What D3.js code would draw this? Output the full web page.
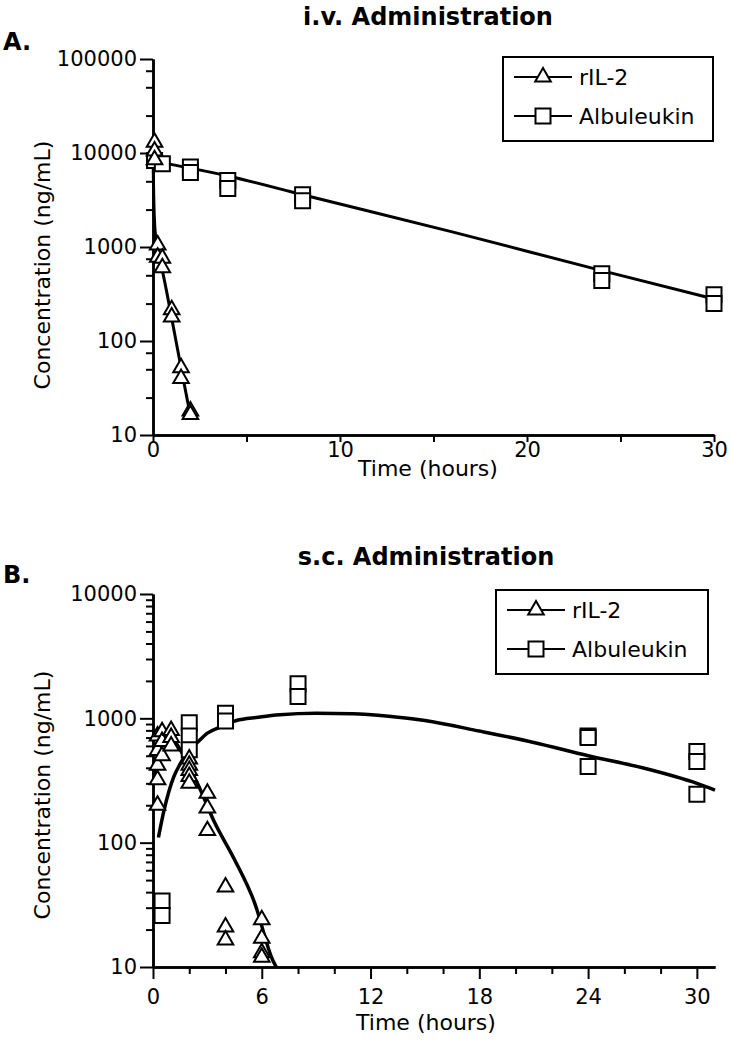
<!DOCTYPE html>
<html>
<head>
<meta charset="utf-8">
<script src="https://cdn.jsdelivr.net/npm/d3@7"></script>
<style>
  body { margin: 0; background: #fff; }
  svg { display: block; }
  text { font-family: "DejaVu Sans", sans-serif; fill: #000; }
</style>
</head>
<body>
<svg id="chart" width="734" height="1047"></svg>
<script>
// ---- data ----
// A. i.v. administration
var ivIL2Time = [0.083, 0.083, 0.083, 0.25, 0.25, 0.5, 0.5, 1, 1, 1.5, 1.5, 2, 2];
var ivIL2Conc = [13000, 10500, 8500, 1050, 780, 760, 600, 215, 180, 52, 40, 18, 16.5];
var ivAlbTime = [0.083, 0.5, 2, 2, 4, 4, 8, 8, 24, 24, 30, 30];
var ivAlbConc = [8300, 7700, 7100, 6200, 5100, 4200, 3600, 3100, 520, 440, 310, 250];
var ivIL2FitTime = [0, 0.02, 0.05, 0.1, 0.2, 0.35, 0.5, 1, 1.5, 2];
var ivIL2FitConc = [10000, 5500, 2800, 1600, 1100, 750, 560, 175, 52, 16];
var ivAlbFitTime = [0, 2, 4, 8, 16, 24, 30];
var ivAlbFitConc = [8200, 6900, 5700, 3600, 1450, 560, 280];

// B. s.c. administration
var scIL2Time = [0.25, 0.25, 0.25, 0.25, 0.25, 0.5, 0.5, 0.5, 1, 1, 1, 2, 2, 2, 2, 2, 3, 3, 3, 4, 4, 4, 6, 6, 6, 6];
var scIL2Conc = [720, 550, 420, 320, 200, 780, 650, 500, 800, 700, 600, 470, 420, 380, 340, 300, 250, 190, 125, 44, 21, 16.5, 24, 17, 13, 12];
var scAlbTime = [0.5, 0.5, 2, 2, 2, 4, 4, 8, 8, 24, 24, 24, 30, 30, 30];
var scAlbConc = [34, 26, 920, 720, 560, 1100, 950, 1900, 1500, 720, 700, 410, 540, 450, 245];
var scIL2FitTime = [0.1, 0.3, 0.6, 1, 1.5, 1.9, 2.5, 3.4, 4.5, 5.6, 6.6, 6.8];
var scIL2FitConc = [300, 560, 720, 700, 560, 430, 290, 145, 73, 33, 11.4, 10];
var scAlbFitTime = [0.3, 0.6, 1.15, 1.5, 2, 2.4, 3, 3.7, 4.6, 5.8, 7, 9, 11, 13, 15, 18, 21, 24, 27, 30, 31];
var scAlbFitConc = [110, 180, 340, 430, 560, 630, 760, 850, 960, 1020, 1070, 1100, 1090, 1040, 960, 790, 640, 500, 400, 300, 265];

// ticks
var ivXMajor = [0, 10, 20, 30];
var ivXMinor = [5, 15, 25];
var ivYMajor = [10, 100, 1000, 10000, 100000];
var ivYMinor = [25, 50, 75, 250, 500, 750, 2500, 5000, 7500, 25000, 50000, 75000];
var scXMajor = [0, 6, 12, 18, 24, 30];
var scXMinor = [2, 4, 8, 10, 14, 16, 20, 22, 26, 28];
var scYMajor = [10, 100, 1000, 10000];
var scYMinor = [];
[10, 100, 1000].forEach(function(d) {
  for (var k = 2; k <= 9; k++) scYMinor.push(d * k);
});

var seriesNames = ["rIL-2", "Albuleukin"];

function zip(t, c) {
  return t.map(function(d, i) { return {t: d, c: c[i]}; });
}

var svg = d3.select("#chart");
svg.append("rect").attr("width", 734).attr("height", 1047).attr("fill", "#fff");

function drawPanel(cfg) {
  var x = d3.scaleLinear().domain(cfg.xDomain).range(cfg.xRange);
  var y = d3.scaleLog().domain(cfg.yDomain).range(cfg.yRange);
  var g = svg.append("g");

  // axes
  var xAxis = d3.axisBottom(x).tickValues(cfg.xMajor).tickSize(cfg.xTick).tickSizeOuter(0)
    .tickPadding(cfg.xPad).tickFormat(d3.format("d"));
  var xMin = d3.axisBottom(x).tickValues(cfg.xMinor).tickSize(7).tickSizeOuter(0).tickFormat("");
  var yAxis = d3.axisLeft(y).tickValues(cfg.yMajor).tickSize(13).tickSizeOuter(0)
    .tickPadding(3).tickFormat(d3.format("d"));
  var yMin = d3.axisLeft(y).tickValues(cfg.yMinor).tickSize(7).tickSizeOuter(0).tickFormat("");

  var gx = g.append("g").attr("transform", "translate(0," + cfg.yRange[0] + ")");
  gx.call(xMin);
  gx.append("g").call(xAxis);
  var gy = g.append("g").attr("transform", "translate(" + cfg.xRange[0] + ",0)");
  gy.call(yMin);
  gy.append("g").call(yAxis);
  g.selectAll(".domain").attr("stroke", "#000").attr("stroke-width", 2.5);
  g.selectAll(".tick line").attr("stroke", "#000").attr("stroke-width", 2);
  g.selectAll(".tick text").style("font-size", "21px").attr("fill", "#000");

  // fitted curves
  var line = d3.line()
    .x(function(d) { return x(d.t); })
    .y(function(d) { return y(d.c); })
    .curve(d3.curveMonotoneX);
  cfg.fits.forEach(function(f) {
    g.append("path")
      .datum(f)
      .attr("fill", "none")
      .attr("stroke", "#000")
      .attr("stroke-width", cfg.lineW)
      .attr("stroke-linejoin", "round")
      .attr("d", line);
  });

  // points
  var tri = d3.symbol(d3.symbolTriangle, 105);
  var sq = d3.symbol(d3.symbolSquare, 225);
  g.selectAll(".alb").data(cfg.alb).enter().append("path")
    .attr("class", "alb")
    .attr("transform", function(d) { return "translate(" + x(d.t) + "," + y(d.c) + ")"; })
    .attr("d", sq).attr("fill", "#fff").attr("stroke", "#000").attr("stroke-width", 2);
  g.selectAll(".il2").data(cfg.il2).enter().append("path")
    .attr("class", "il2")
    .attr("transform", function(d) { return "translate(" + x(d.t) + "," + y(d.c) + ")"; })
    .attr("d", tri).attr("fill", "#fff").attr("stroke", "#000").attr("stroke-width", 2);

  // titles & labels
  svg.append("text").attr("x", 3).attr("y", cfg.letterY)
    .style("font-size", "24px").style("font-weight", "bold").text(cfg.letter);
  svg.append("text").attr("x", cfg.titleX).attr("y", cfg.titleY).attr("text-anchor", "middle")
    .style("font-size", "24px").style("font-weight", "bold").text(cfg.title);
  svg.append("text").attr("x", cfg.titleX).attr("y", cfg.xLabelY).attr("text-anchor", "middle")
    .style("font-size", "22px").text("Time (hours)");
  svg.append("text")
    .attr("transform", "translate(50," + cfg.yLabelY + ") rotate(-90)")
    .attr("text-anchor", "middle")
    .style("font-size", "22px").text("Concentration (ng/mL)");

  // legend
  var lg = svg.append("g").attr("transform", "translate(" + cfg.legend[0] + "," + cfg.legend[1] + ")");
  lg.append("rect").attr("width", cfg.legend[2]).attr("height", cfg.legend[3])
    .attr("fill", "#fff").attr("stroke", "#000").attr("stroke-width", 2);
  seriesNames.forEach(function(name, i) {
    var ry = 20 + i * 39;
    lg.append("line").attr("x1", 11).attr("x2", 69).attr("y1", ry).attr("y2", ry)
      .attr("stroke", "#000").attr("stroke-width", 2);
    lg.append("path").attr("transform", "translate(40," + ry + ")")
      .attr("d", i == 0 ? tri : sq).attr("fill", "#fff").attr("stroke", "#000").attr("stroke-width", 2);
    lg.append("text").attr("x", 76).attr("y", ry + 8).style("font-size", "22px").text(name);
  });
}

drawPanel({
  xDomain: [0, 30], xRange: [153, 714],
  yDomain: [10, 100000], yRange: [435, 59],
  xMajor: ivXMajor, xMinor: ivXMinor, yMajor: ivYMajor, yMinor: ivYMinor,
  xTick: 7, xPad: 0, lineW: 3,
  fits: [zip(ivIL2FitTime, ivIL2FitConc), zip(ivAlbFitTime, ivAlbFitConc)],
  il2: zip(ivIL2Time, ivIL2Conc), alb: zip(ivAlbTime, ivAlbConc),
  letter: "A.", letterY: 50, title: "i.v. Administration", titleX: 428, titleY: 25,
  xLabelY: 476, yLabelY: 265,
  legend: [503, 57, 210, 84]
});

drawPanel({
  xDomain: [0, 31], xRange: [153, 715],
  yDomain: [10, 10000], yRange: [967, 594],
  xMajor: scXMajor, xMinor: scXMinor, yMajor: scYMajor, yMinor: scYMinor,
  xTick: 12, xPad: 10, lineW: 3.5,
  fits: [zip(scIL2FitTime, scIL2FitConc), zip(scAlbFitTime, scAlbFitConc)],
  il2: zip(scIL2Time, scIL2Conc), alb: zip(scAlbTime, scAlbConc),
  letter: "B.", letterY: 583, title: "s.c. Administration", titleX: 426, titleY: 565,
  xLabelY: 1030, yLabelY: 795,
  legend: [496, 590, 212, 84]
});
</script>
</body>
</html>
